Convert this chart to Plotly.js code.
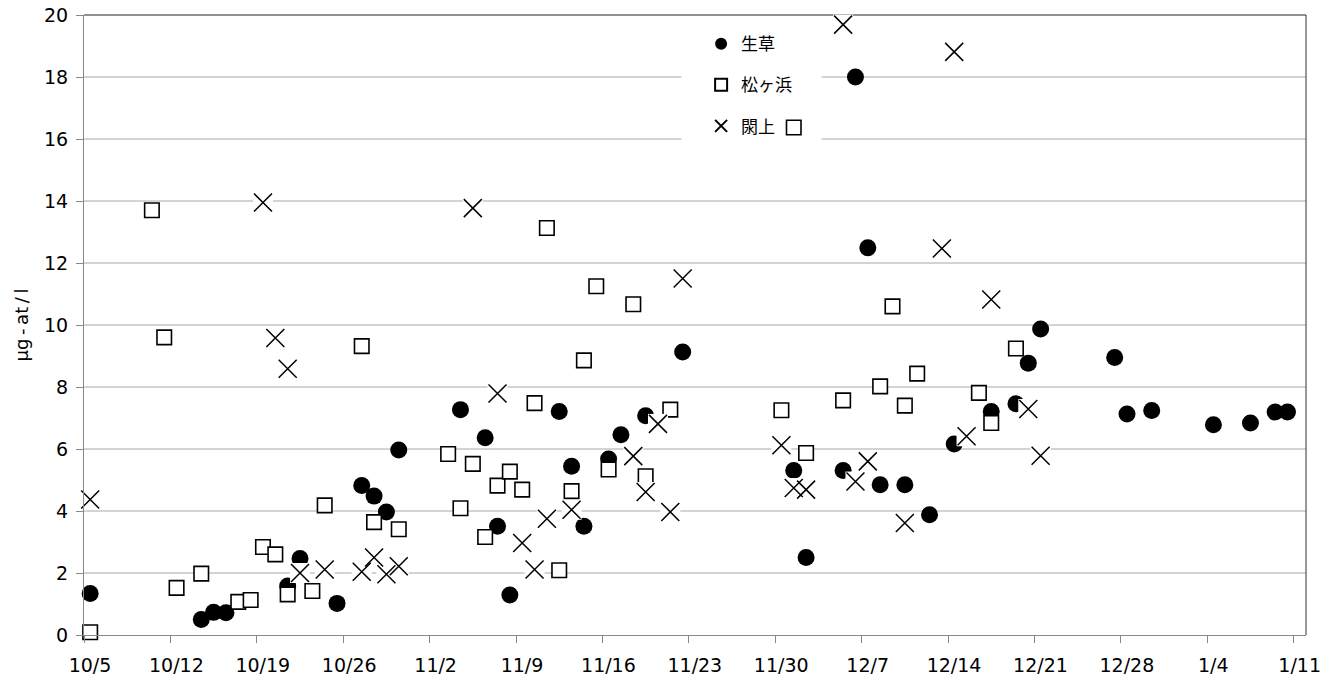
<!DOCTYPE html>
<html>
<head>
<meta charset="utf-8">
<script src="https://cdn.plot.ly/plotly-3.0.1.min.js"></script>
<style>html,body{margin:0;padding:0;background:#fff;}#chart{width:1338px;height:683px;}</style>
</head>
<body>
<div id="chart"></div>
<script>
// 生草
const namaDates = ['2000-10-05','2000-10-14','2000-10-15','2000-10-16','2000-10-21','2000-10-22','2000-10-25','2000-10-27','2000-10-28','2000-10-29','2000-10-30','2000-11-04','2000-11-06','2000-11-07','2000-11-08','2000-11-12','2000-11-13','2000-11-14','2000-11-16','2000-11-17','2000-11-19','2000-11-22','2000-12-01','2000-12-02','2000-12-05','2000-12-06','2000-12-07','2000-12-08','2000-12-10','2000-12-12','2000-12-14','2000-12-17','2000-12-19','2000-12-20','2000-12-21','2000-12-27','2000-12-28','2000-12-30','2001-01-04','2001-01-07','2001-01-09','2001-01-10'];
const namaValues = [1.34,0.50,0.73,0.72,1.58,2.47,1.02,4.82,4.48,3.97,5.97,7.27,6.36,3.51,1.29,7.21,5.44,3.51,5.68,6.46,7.07,9.13,5.31,2.50,5.31,18.0,12.49,4.85,4.85,3.88,6.16,7.21,7.46,8.77,9.87,8.95,7.13,7.24,6.78,6.84,7.19,7.19];

// 松ヶ浜
const matsuDates = ['2000-10-05','2000-10-10','2000-10-11','2000-10-12','2000-10-14','2000-10-17','2000-10-18','2000-10-19','2000-10-20','2000-10-21','2000-10-23','2000-10-24','2000-10-27','2000-10-28','2000-10-30','2000-11-03','2000-11-04','2000-11-05','2000-11-06','2000-11-07','2000-11-08','2000-11-09','2000-11-10','2000-11-11','2000-11-12','2000-11-13','2000-11-14','2000-11-15','2000-11-16','2000-11-18','2000-11-19','2000-11-21','2000-11-30','2000-12-01','2000-12-02','2000-12-05','2000-12-08','2000-12-09','2000-12-10','2000-12-11','2000-12-16','2000-12-17','2000-12-19'];
const matsuValues = [0.09,13.7,9.6,1.52,1.98,1.07,1.13,2.84,2.60,1.31,1.42,4.18,9.32,3.64,3.41,5.84,4.09,5.52,3.16,4.82,5.27,4.69,7.48,13.13,2.09,4.64,8.86,11.25,5.34,10.67,5.12,7.27,7.25,16.37,5.87,7.57,8.02,10.6,7.40,8.43,7.81,6.84,9.24];

// 閖上
const yuriDates = ['2000-10-05','2000-10-19','2000-10-20','2000-10-21','2000-10-22','2000-10-24','2000-10-27','2000-10-28','2000-10-29','2000-10-30','2000-11-05','2000-11-07','2000-11-09','2000-11-10','2000-11-11','2000-11-13','2000-11-18','2000-11-19','2000-11-20','2000-11-21','2000-11-22','2000-11-30','2000-12-01','2000-12-02','2000-12-05','2000-12-06','2000-12-07','2000-12-10','2000-12-13','2000-12-14','2000-12-15','2000-12-17','2000-12-20','2000-12-21'];
const yuriValues = [4.37,13.95,9.58,8.59,2.00,2.11,2.04,2.50,1.96,2.22,13.77,7.79,2.97,2.11,3.75,4.04,5.77,4.61,6.81,3.97,11.50,6.12,4.74,4.69,19.69,4.95,5.60,3.61,12.47,18.81,6.41,10.82,7.29,5.78];

const seriesNames = ['生草','松ヶ浜','閖上'];
const yTitle = 'μg\u2009-\u2009at\u2009/\u2009l';
const yTickVals = [0,2,4,6,8,10,12,14,16,18,20];

const DAY = 86400000;
const common = {type:'scatter', mode:'markers', xperiod: DAY, xperiodalignment:'middle', hoverinfo:'x+y', cliponaxis:false};

const traces = [
  Object.assign({}, common, {
    x: namaDates, y: namaValues, name: seriesNames[0], legendgroup:'a',
    marker: {symbol:'circle', size:17, color:'#000', line:{width:0}}
  }),
  Object.assign({}, common, {
    x: matsuDates, y: matsuValues, name: seriesNames[1], legendgroup:'b',
    marker: {symbol:'square', size:14.5, color:'#fff', line:{width:1.6, color:'#000'}}
  }),
  Object.assign({}, common, {
    x: yuriDates, y: yuriValues, name: 'halo', showlegend:false, hoverinfo:'skip',
    marker: {symbol:'square', size:20, color:'#fff', line:{width:0}}
  }),
  Object.assign({}, common, {
    x: yuriDates, y: yuriValues, name: seriesNames[2], legendgroup:'c',
    marker: {symbol:'x-thin', size:18, color:'#000', line:{width:1.5, color:'#000'}}
  })
];

const tickFont = {family:'DejaVu Sans, Verdana, sans-serif', size:19, color:'#000'};

// gridlines drawn as shapes (below traces) so the legend panel can mask them
const shapes = yTickVals.filter(v => v > 0 && v < 20).map(v => ({
  type:'line', xref:'paper', yref:'y', x0:0, x1:1, y0:v, y1:v,
  line:{color:'#a8a8a8', width:1}, layer:'below'
}));
shapes.push({type:'rect', xref:'paper', yref:'paper', x0:0.489, x1:0.6036, y0:0.79, y1:0.99, fillcolor:'#fff', line:{width:0}, layer:'below'});
shapes.push({type:'line', xref:'paper', yref:'paper', x0:0, x1:1, y0:1, y1:1, line:{color:'#222', width:1}, layer:'below'});
shapes.push({type:'line', xref:'paper', yref:'paper', x0:1, x1:1, y0:0, y1:1, line:{color:'#333', width:1}, layer:'below'});

const layout = {
  width:1338, height:683,
  margin:{l:84, r:32, t:15, b:48, pad:0},
  paper_bgcolor:'#fff', plot_bgcolor:'rgba(0,0,0,0)',
  showlegend:true,
  xaxis:{
    type:'date',
    range:['2000-10-05','2001-01-12'],
    tick0:'2000-10-05', dtick: 7*DAY,
    tickformat:'%-m/%-d',
    ticks:'outside', ticklen:7, tickwidth:1, tickcolor:'#888',
    ticklabelshift:6, ticklabelstandoff:6,
    showgrid:false, zeroline:false,
    showline:true, linecolor:'#888', linewidth:1,
    tickfont:tickFont,
    fixedrange:true
  },
  yaxis:{
    range:[0,20], tickmode:'array', tickvals:yTickVals,
    ticks:'outside', ticklen:7, tickwidth:1, tickcolor:'#888',
    showgrid:false,
    zeroline:false,
    showline:true, linecolor:'#888', linewidth:1,
    tickfont:tickFont,
    ticklabelstandoff:4,
    title:{text:yTitle, font:{family:'DejaVu Sans, Verdana, sans-serif', size:18, color:'#000'}, standoff:10},
    fixedrange:true
  },
  legend:{
    x:0.505, y:0.982, xanchor:'left', yanchor:'top',
    bgcolor:'rgba(0,0,0,0)', borderwidth:0,
    font:{family:'Noto Sans CJK JP, sans-serif', size:17, color:'#000'},
    traceorder:'grouped', tracegroupgap:16,
    itemsizing:'constant'
  },
  shapes: shapes
};

Plotly.newPlot('chart', traces, layout, {displayModeBar:false, staticPlot:true});
</script>
</body>
</html>
